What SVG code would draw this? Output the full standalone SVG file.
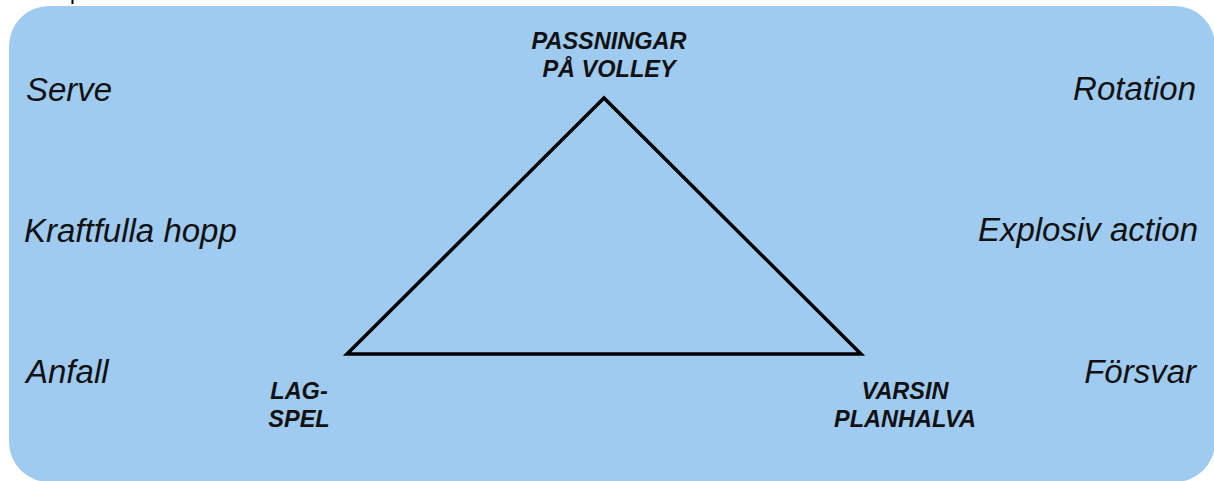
<svg xmlns="http://www.w3.org/2000/svg" width="1214" height="481" viewBox="0 0 1214 481">
  <style>
    .side { font-family: "Liberation Sans", Arial, sans-serif; font-style: italic; font-size: 33px; fill: #111; }
    .lbl { font-family: "Liberation Sans", Arial, sans-serif; font-style: italic; font-weight: bold; font-size: 23.5px; fill: #111; text-anchor: middle; }
    .tri { fill: none; stroke: #000; stroke-width: 3.5; stroke-linejoin: miter; }
  </style>
  <rect x="0" y="0" width="1214" height="481" fill="#ffffff"/>
  <line x1="72.5" y1="0" x2="72.5" y2="4" stroke="#000" stroke-width="2"/>
  <g id="background">
    <rect x="9" y="6" width="1206" height="476" rx="40" ry="40" fill="#a0cbf1"/>
  </g>
  <g id="connectors">
    <polygon class="tri" points="604,98 347,354 861,354"/>
  </g>
  <g id="node-passningar">
    <text class="lbl" x="609" y="49">PASSNINGAR</text>
    <text class="lbl" x="609" y="77">PÅ VOLLEY</text>
  </g>
  <g id="node-lagspel">
    <text class="lbl" x="299" y="399">LAG-</text>
    <text class="lbl" x="299" y="427">SPEL</text>
  </g>
  <g id="node-varsin">
    <text class="lbl" x="905" y="399">VARSIN</text>
    <text class="lbl" x="905" y="427">PLANHALVA</text>
  </g>
  <g id="left-labels">
    <text class="side" x="26" y="101">Serve</text>
    <text class="side" x="24" y="242">Kraftfulla hopp</text>
    <text class="side" x="26" y="383">Anfall</text>
  </g>
  <g id="right-labels">
    <text class="side" x="1196" y="100" text-anchor="end">Rotation</text>
    <text class="side" x="1198" y="241" text-anchor="end">Explosiv action</text>
    <text class="side" x="1196" y="383" text-anchor="end">Försvar</text>
  </g>
</svg>
